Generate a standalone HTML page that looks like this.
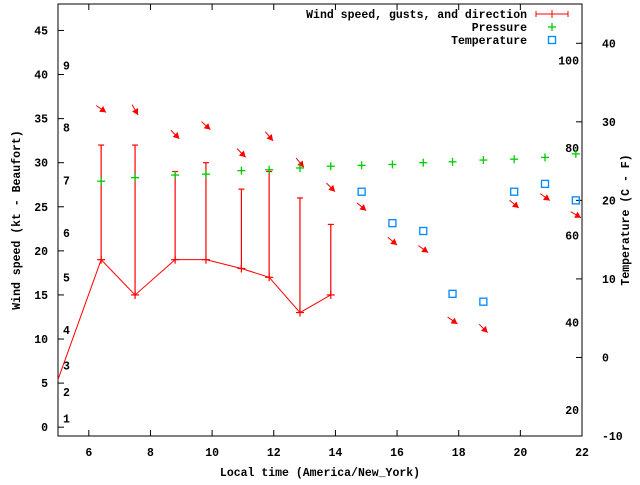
<!DOCTYPE html>
<html><head><meta charset="utf-8"><style>
body{margin:0;background:#fff}
svg text{font-family:"Liberation Mono",monospace;font-weight:bold;font-size:11.5px;fill:#000}
</style></head><body>
<svg id="c" width="640" height="480" xmlns="http://www.w3.org/2000/svg"></svg>
<script>
const times=[6.4,7.5,8.8,9.8,10.95,11.85,12.85,13.85,14.85,15.85,16.85,17.8,18.8,19.8,20.8,21.8];
const windTimes=[5,6.4,7.5,8.8,9.8,10.95,11.85,12.85,13.85];
const windSpeed=[5.4,19,15,19,19,18,17,13,15];
const gusts=[null,32,32,29,30,27,29,26,23];
const pressure=[27.9,28.3,28.6,28.7,29.1,29.2,29.4,29.6,29.7,29.8,30.0,30.1,30.3,30.4,30.6,31.0];
const tempTimes=[14.85,15.85,16.85,17.8,18.8,19.8,20.8,21.8];
const temps=[21.1,17.1,16.1,8.1,7.1,21.1,22.1,20.0];
const arrowY=[36.1,36.0,33.2,34.2,31.1,33.0,30.0,27.2,25.0,21.1,20.2,12.1,11.2,25.3,26.1,24.1];
const arrowAng=[35,60,45,42,45,50,50,45,40,40,35,35,45,40,35,30];
const xTicks=[6,8,10,12,14,16,18,20,22];
const yTicks=[0,5,10,15,20,25,30,35,40,45];
const y2Ticks=[-10,0,10,20,30,40];
const fTicks=[20,40,60,80,100];
const beaufortLabels=[1,2,3,4,5,6,7,8,9];
const beaufortKt=[1,4,7,11,17,22,28,34,41];

const L=58,R=582,T=4,B=436;
const X=t=>L+(t-5)*(R-L)/17;
const Y=v=>B-(v+1)*(B-T)/49;
const Y2=c=>B-(c+10)*(B-T)/55;
const NS="http://www.w3.org/2000/svg";
const svg=document.getElementById('c');
function mk(tag,attrs,parent){const e=document.createElementNS(NS,tag);for(const k in attrs)e.setAttribute(k,attrs[k]);(parent||svg).appendChild(e);return e;}
function txt(x,y,s,anchor){const e=mk('text',{x:x,y:y,'text-anchor':anchor||'start'});e.textContent=s;return e;}

const axes=mk('g',{});


const frame=mk('rect',{x:L,y:T,width:R-L,height:B-T,fill:'none',stroke:'#000','stroke-width':1},axes);


xTicks.forEach(t=>{const x=X(t);mk('line',{x1:x,y1:B,x2:x,y2:B-6,stroke:'#000'},axes);mk('line',{x1:x,y1:T,x2:x,y2:T+6,stroke:'#000'},axes);
 const e=txt(x,456,String(t),'middle');});
yTicks.forEach(v=>{const y=Y(v);mk('line',{x1:L,y1:y,x2:L+6,y2:y,stroke:'#000'},axes);
 const e=txt(48,y+4,String(v),'end');});
y2Ticks.forEach(c=>{const y=Y2(c);mk('line',{x1:R,y1:y,x2:R-6,y2:y,stroke:'#000'},axes);
 const e=txt(602,y+4,String(c),'start');});
fTicks.forEach(f=>{const e=txt(579,Y2((f-32)*5/9)+4,String(f),'end');});
beaufortLabels.forEach((b,i)=>{const e=txt(63,Y(beaufortKt[i])+4,String(b),'start');});

let e=txt(320,476,'Local time (America/New_York)','middle');

e=txt(0,0,'Wind speed (kt - Beaufort)','middle');e.setAttribute('transform','translate(20,220) rotate(-90)');

e=txt(0,0,'Temperature (C - F)','middle');e.setAttribute('transform','translate(629,220) rotate(-90)');


// wind line
const wl=mk('polyline',{points:windTimes.map((t,i)=>X(t)+','+Y(windSpeed[i])).join(' '),fill:'none',stroke:'#f00','stroke-width':1});

windTimes.forEach((t,i)=>{const x=X(t),y=Y(windSpeed[i]);
 if(gusts[i]!=null){const g=Y(gusts[i]);const b=mk('g',{stroke:'#f00','stroke-width':1.2});
  
  mk('line',{x1:x,y1:y,x2:x,y2:g},b);mk('line',{x1:x-3,y1:g,x2:x+3,y2:g},b);
  mk('line',{x1:x-4,y1:y,x2:x+4,y2:y},b);mk('line',{x1:x,y1:y-4,x2:x,y2:y+4},b);}
});
// arrows
times.forEach((t,i)=>{const cx=X(t),cy=Y(arrowY[i]);const a=arrowAng[i]*Math.PI/180,dx=Math.cos(a),dy=Math.sin(a);
 const tx=cx-6*dx,ty=cy-6*dy,hx=cx+6*dx,hy=cy+6*dy;const g=mk('g',{});
 
 mk('line',{x1:tx,y1:ty,x2:hx,y2:hy,stroke:'#f00','stroke-width':1},g);
 const bx=hx-6*dx,by=hy-6*dy,px=-dy*3.5,py=dx*3.5;
 mk('polygon',{points:`${hx},${hy} ${bx+px},${by+py} ${bx-px},${by-py}`,fill:'#f00'},g);});
// pressure
times.forEach((t,i)=>{const x=X(t),y=Y(pressure[i]);const g=mk('g',{stroke:'#0c0','stroke-width':1.3});
 
 mk('line',{x1:x-4,y1:y,x2:x+4,y2:y},g);mk('line',{x1:x,y1:y-4,x2:x,y2:y+4},g);});
// temps
tempTimes.forEach((t,i)=>{const r=mk('rect',{x:X(t)-3.5,y:Y2(temps[i])-3.5,width:7,height:7,fill:'none',stroke:'#08f','stroke-width':1.3});
 });
// legend
const lg=mk('g',{});
e=txt(527,18,'Wind speed, gusts, and direction','end');lg.appendChild(e);
mk('line',{x1:536,y1:14,x2:568,y2:14,stroke:'#f00'},lg);mk('line',{x1:536,y1:11,x2:536,y2:17,stroke:'#f00'},lg);
mk('line',{x1:568,y1:11,x2:568,y2:17,stroke:'#f00'},lg);mk('line',{x1:552,y1:10,x2:552,y2:18,stroke:'#f00'},lg);
e=txt(527,31,'Pressure','end');lg.appendChild(e);
mk('line',{x1:548,y1:27,x2:556,y2:27,stroke:'#0c0','stroke-width':1.3},lg);mk('line',{x1:552,y1:23,x2:552,y2:31,stroke:'#0c0','stroke-width':1.3},lg);
e=txt(527,44,'Temperature','end');lg.appendChild(e);
mk('rect',{x:548.5,y:36.5,width:7,height:7,fill:'none',stroke:'#08f','stroke-width':1.3},lg);
</script>
</body></html>
